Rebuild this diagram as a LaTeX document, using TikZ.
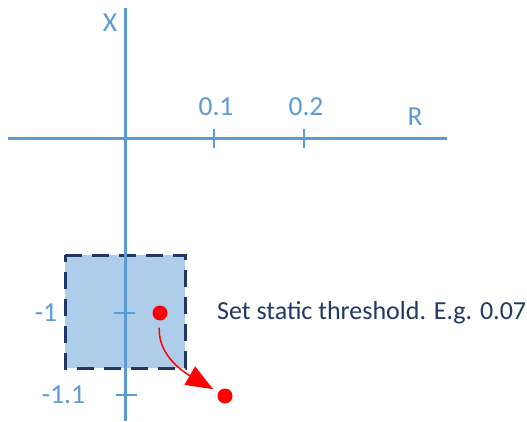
\documentclass[tikz,border=0pt]{standalone}
\usepackage{fontspec}
\setmainfont{Carlito}
\usetikzlibrary{arrows.meta}
\definecolor{axblue}{HTML}{5B9BD5}
\definecolor{boxfill}{HTML}{AECDEA}
\definecolor{navy}{HTML}{1F3864}
\definecolor{dotred}{HTML}{FF0000}
\begin{document}
\begin{tikzpicture}[x=1pt,y=1pt,
  axis/.style={draw=axblue,line width=3pt},
  tick/.style={draw=axblue,line width=1.4pt},
  lab/.style={text=axblue,font=\fontsize{27.5}{30}\selectfont,inner sep=0pt},
  dot/.style={circle,fill=dotred,minimum size=15pt,inner sep=0pt},
  region/.style={fill=boxfill,draw=navy,line width=3pt,dash pattern=on 17pt off 10pt,dash phase=10pt}]
\useasboundingbox (0,0) rectangle (527,421);
% threshold region
\path[region] (65,166) rectangle (185,53);
% axes
\coordinate (hl) at (8,282);
\coordinate (hr) at (447,282);
\coordinate (vt) at (125,413);
\coordinate (vb) at (125,0);
\draw[axis] (hl) -- (hr);
\draw[axis] (vt) -- (vb);
% ticks
\coordinate (t1a) at (214,292); \coordinate (t1b) at (214,273);
\coordinate (t2a) at (304,292); \coordinate (t2b) at (304,273);
\coordinate (t3a) at (114,108); \coordinate (t3b) at (135,108);
\coordinate (t4a) at (116,26);  \coordinate (t4b) at (137,26);
\draw[tick] (t1a) -- (t1b);
\draw[tick] (t2a) -- (t2b);
\draw[tick] (t3a) -- (t3b);
\draw[tick] (t4a) -- (t4b);
% labels
\node[lab] (l01) at (216,314) {0.1};
\node[lab] (l02) at (306,314) {0.2};
\node[lab] (lR) at (415,304) {R};
\node[lab] (lX) at (110,398) {X};
\node[lab] (lm1) at (46,108) {-1};
\node[lab] (lm11) at (63.5,26) {-1.1};
% dots and arrow
\node[dot] (d1) at (160,108) {};
\node[dot] (d2) at (225,25) {};
\draw[dotred,line width=1.5pt,-{Triangle[length=27pt,width=21pt]},shorten <=7pt,shorten >=6pt]
  (d1) to[out=-93,in=150] (d2);
% text
\node[anchor=base west,inner sep=0pt,text=navy,font=\fontsize{26}{30}\selectfont] (txt) at (217,102) {Set static threshold. E.g. 0.07};
\end{tikzpicture}
\end{document}
